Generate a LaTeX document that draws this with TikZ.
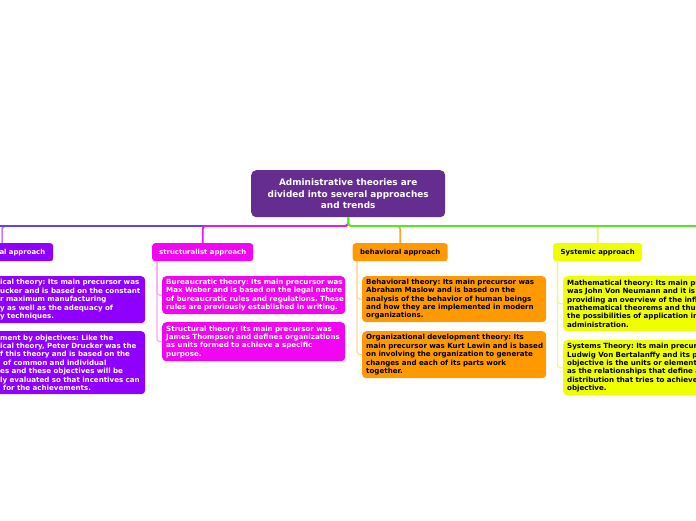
\documentclass[tikz,border=0pt]{standalone}
\usepackage{fontspec}
\setmainfont{DejaVu Sans}
\definecolor{rootc}{HTML}{662D91}
\definecolor{classc}{HTML}{9000FF}
\definecolor{structc}{HTML}{F206F2}
\definecolor{behavc}{HTML}{FF9900}
\definecolor{sysc}{HTML}{EFFF00}
\definecolor{classline}{HTML}{C77DFF}
\definecolor{blueline}{HTML}{6040FF}
\definecolor{magline}{HTML}{E81AE8}
\definecolor{orangeline}{HTML}{FFA726}
\definecolor{yellowline}{HTML}{F2F270}
\definecolor{greenline}{HTML}{55E81A}
\definecolor{structlight}{HTML}{F7A8F7}
\definecolor{behavlight}{HTML}{FFD8A0}
\definecolor{syslight}{HTML}{F4F48A}
\definecolor{classlight}{HTML}{D9A8FF}
\begin{document}
\frenchspacing
\begin{tikzpicture}[x=1pt,y=-1pt,
  rootbox/.style={fill=rootc, text=white, rounded corners=5pt,
    font=\fontsize{8.9}{11.5}\selectfont\bfseries, align=center,
    minimum width=194pt, minimum height=47pt, inner sep=0pt, anchor=north west},
  branchbox/.style={rounded corners=3pt, font=\fontsize{6.9}{8.4}\selectfont\bfseries,
    minimum height=18pt, inner sep=0pt, anchor=north west},
  leafbox/.style={rounded corners=4pt, font=\fontsize{7.1}{8.4}\selectfont\bfseries,
    align=left, inner xsep=4pt, inner ysep=0pt, anchor=north west},
  mainline/.style={line width=1.8pt, rounded corners=3pt},
  leafline/.style={line width=1.2pt, rounded corners=3pt}]
\useasboundingbox (0,0) rectangle (696,520);
\clip (0,0) rectangle (696,520);

% root
\node[rootbox] (root) at (251,170) {Administrative theories are\\divided into several approaches\\and trends};

% branches
\node[branchbox, fill=classc, text=white, minimum width=102pt, text width=86pt, align=right] (class) at (-49,243) {al approach};
\node[branchbox, fill=structc, text=white, minimum width=101pt] (struct) at (152,243) {structuralist approach};
\node[branchbox, fill=behavc, text=black, minimum width=95pt] (behav) at (352.5,243) {behavioral approach};
\node[branchbox, fill=sysc, text=black, minimum width=89pt] (sys) at (553,243) {Systemic approach};

% leaves: classical
\node[leafbox, fill=classc, text=white, text width=141pt, minimum height=47pt] (c1) at (-4,276)
 {\mbox{ical theory: Its main precursor was}\\
  \mbox{ucker and is based on the constant}\\
  \mbox{r maximum manufacturing}\\
  \mbox{y as well as the adequacy of}\\
  \mbox{y techniques.}};
\node[leafbox, fill=classc, text=white, text width=141pt, minimum height=63pt] (c2) at (-4,331)
 {\mbox{ment by objectives: Like the}\\
  \mbox{ical theory, Peter Drucker was the}\\
  \mbox{f this theory and is based on the}\\
  \mbox{\hspace*{3pt}of common and individual}\\
  \mbox{es and these objectives will be}\\
  \mbox{ly evaluated so that incentives can}\\
  \mbox{\hspace*{3pt}for the achievements.}};

% leaves: structuralist
\node[leafbox, fill=structc, text=white, text width=175pt, minimum height=38pt] (s1) at (162,276)
 {\mbox{Bureaucratic theory: Its main precursor was}\\
  \mbox{Max Weber and is based on the legal nature}\\
  \mbox{of bureaucratic rules and regulations. These}\\
  \mbox{rules are previously established in writing.}};
\node[leafbox, fill=structc, text=white, text width=175pt, minimum height=39pt] (s2) at (162,322)
 {\mbox{Structural theory: Its main precursor was}\\
  \mbox{James Thompson and defines organizations}\\
  \mbox{as units formed to achieve a specific}\\
  \mbox{purpose.}};

% leaves: behavioral
\node[leafbox, fill=behavc, text=black, text width=176pt, minimum height=46pt] (b1) at (362,276)
 {\mbox{Behavioral theory: Its main precursor was}\\
  \mbox{Abraham Maslow and is based on the}\\
  \mbox{analysis of the behavior of human beings}\\
  \mbox{and how they are implemented in modern}\\
  \mbox{organizations.}};
\node[leafbox, fill=behavc, text=black, text width=176pt, minimum height=47pt] (b2) at (362,331)
 {\mbox{Organizational development theory: Its}\\
  \mbox{main precursor was Kurt Lewin and is based}\\
  \mbox{on involving the organization to generate}\\
  \mbox{changes and each of its parts work}\\
  \mbox{together.}};

% leaves: systemic
\node[leafbox, fill=sysc, text=black, text width=192pt, minimum height=55pt] (y1) at (563,276)
 {\mbox{Mathematical theory: Its main precursor}\\
  \mbox{was John Von Neumann and it is}\\
  \mbox{providing an overview of the influence}\\
  \mbox{mathematical theorems and thus}\\
  \mbox{the possibilities of application in}\\
  \mbox{administration.}};
\node[leafbox, fill=sysc, text=black, text width=192pt, minimum height=55pt] (y2) at (563,340)
 {\mbox{Systems Theory: Its main precursor}\\
  \mbox{Ludwig Von Bertalanffy and its p}\\
  \mbox{objective is the units or elements}\\
  \mbox{as the relationships that define a}\\
  \mbox{distribution that tries to achieve}\\
  \mbox{objective.}};

% bus coordinates
\coordinate (busL) at (-60,226);
\coordinate (busR) at (760,226);

% main connectors
\draw[mainline, draw=classline] (root.south) -- (root.south |- busL) -| (class.north);
\draw[mainline, draw=blueline] (root.south) -- (root.south |- busL) -- (busL);
\draw[mainline, draw=magline] (root.south) -- (root.south |- busL) -| (struct.north);
\draw[mainline, draw=orangeline] (root.south) -- (root.south |- busR) -| (behav.north);
\draw[mainline, draw=yellowline] (root.south) -- (root.south |- busR) -| (sys.north);
\draw[mainline, draw=greenline] (root.south) -- (root.south |- busR) -- (busR);

% leaf connectors
\draw[leafline, draw=classlight] ([xshift=5pt]class.south west) |- (c1.west);
\draw[leafline, draw=classlight] ([xshift=5pt]class.south west) |- (c2.west);
\draw[leafline, draw=structlight] ([xshift=5pt]struct.south west) |- (s1.west);
\draw[leafline, draw=structlight] ([xshift=5pt]struct.south west) |- (s2.west);
\draw[leafline, draw=behavlight] ([xshift=4.5pt]behav.south west) |- (b1.west);
\draw[leafline, draw=behavlight] ([xshift=4.5pt]behav.south west) |- (b2.west);
\draw[leafline, draw=syslight] ([xshift=4.5pt]sys.south west) |- (y1.west);
\draw[leafline, draw=syslight] ([xshift=4.5pt]sys.south west) |- (y2.west);
\end{tikzpicture}
\end{document}
